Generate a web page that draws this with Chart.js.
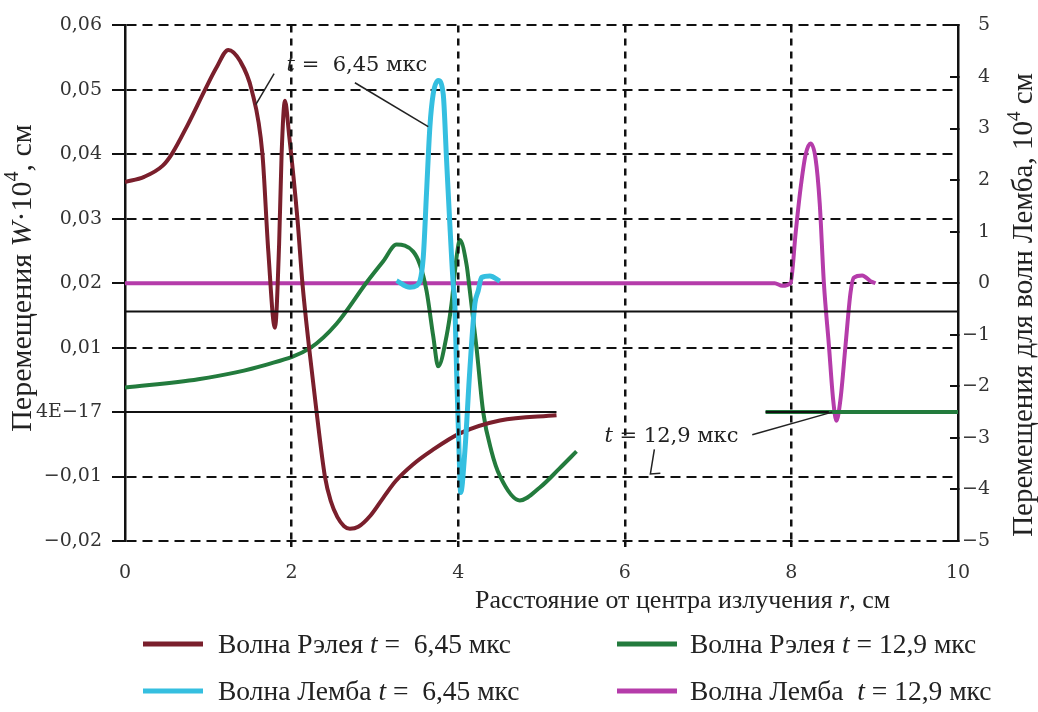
<!DOCTYPE html>
<html>
<head>
<meta charset="utf-8">
<script src="https://cdn.jsdelivr.net/npm/chart.js@4.4.1/dist/chart.umd.min.js"></script>
<style>
  html, body { margin: 0; padding: 0; background: #fff; }
  #wrap { width: 1038px; height: 712px; }
</style>
</head>
<body>
<div id="wrap"><canvas id="chart" width="1038" height="712"></canvas></div>
<script>
// Rayleigh wave, t = 6.45 us (left axis, W*10^4 cm)
const rayleighEarlyR = [0, 0.23, 0.45, 0.56, 0.75, 0.96, 1.10, 1.24, 1.38, 1.52, 1.65, 1.72, 1.80, 1.85, 1.88, 1.92, 1.97, 2.07, 2.13, 2.21, 2.30, 2.40, 2.47, 2.55, 2.63, 2.70, 2.80, 2.95, 3.10, 3.25, 3.45, 3.69, 4.02, 4.50, 5.18];
const rayleighEarlyW = [0.0357, 0.0365, 0.0382, 0.0400, 0.0445, 0.0500, 0.0535, 0.0562, 0.0545, 0.0500, 0.0400, 0.0250, 0.0131, 0.0260, 0.0400, 0.0483, 0.0430, 0.0300, 0.0200, 0.0100, 0.0000, -0.0100, -0.0138, -0.0163, -0.0177, -0.0181, -0.0178, -0.0160, -0.0133, -0.0107, -0.0082, -0.0059, -0.0033, -0.0013, -0.0005];

// Rayleigh wave, t = 12.9 us (left axis); null = break in the curve
const rayleighLateR = [0, 0.88, 1.68, 2.23, 2.54, 2.90, 3.10, 3.26, 3.46, 3.54, 3.62, 3.70, 3.76, 3.86, 3.92, 3.98, 4.02, 4.10, 4.14, 4.22, 4.30, 4.40, 4.50, 4.74, 4.98, 5.22, 5.42, 6.50, 7.69, 10];
const rayleighLateW = [0.0038, 0.0051, 0.0073, 0.0100, 0.0137, 0.0201, 0.0234, 0.0260, 0.0249, 0.0229, 0.0188, 0.0118, 0.0071, 0.0118, 0.0168, 0.0240, 0.0267, 0.0229, 0.0188, 0.0100, 0.0000, -0.0061, -0.0099, -0.0137, -0.0117, -0.0087, -0.0061, null, 0.0000, 0.0000];

// Lamb wave, t = 6.45 us (right axis, 10^4 cm)
const lambEarlyR = [3.26, 3.42, 3.50, 3.58, 3.62, 3.66, 3.70, 3.76, 3.82, 3.86, 3.90, 3.94, 3.96, 3.98, 4.01, 4.03, 4.08, 4.14, 4.20, 4.24, 4.28, 4.38, 4.50];
const lambEarlyW = [0.05, -0.08, -0.05, 0.49, 1.76, 3.03, 3.67, 3.93, 3.67, 2.40, 1.13, -0.02, -0.40, -1.67, -3.26, -4.06, -3.26, -1.67, -0.40, -0.15, 0.11, 0.14, 0.04];

// Lamb wave, t = 12.9 us (right axis)
const lambLateR = [0, 7.80, 7.89, 7.99, 8.05, 8.11, 8.17, 8.23, 8.29, 8.34, 8.39, 8.45, 8.50, 8.54, 8.59, 8.65, 8.71, 8.75, 8.85, 8.95, 9.01];
const lambLateW = [0, 0, -0.05, 0.0, 0.96, 1.84, 2.49, 2.71, 2.42, 1.55, 0.0, -1.20, -2.24, -2.67, -2.24, -1.20, -0.18, 0.11, 0.15, 0.04, 0.0];

// thin black lines of the original plot (left axis)
const zeroLineR = [0, 5.18, 6.50, 7.69, 8.45];
const zeroLineW = [0, 0, null, 0, 0];
const refLineR = [0, 10];
const refLineW = [0.0156, 0.0156];

const legendLabels = [
  [['Волна Рэлея '], ['t', 'i'], [' =  6,45 мкс']],
  [['Волна Рэлея '], ['t', 'i'], [' = 12,9 мкс']],
  [['Волна Лемба '], ['t', 'i'], [' =  6,45 мкс']],
  [['Волна Лемба  '], ['t', 'i'], [' = 12,9 мкс']]
];

const COLORS = { red: '#7a1f2c', green: '#237b3d', cyan: '#35bfe0', magenta: '#b53caa', ink: '#222' };
const SERIF = "'Liberation Serif', 'Times New Roman', serif";
const TICK_FONT = "'DejaVu Serif', serif";

function toPoints(xs, ys) {
  return xs.map((v, i) => ({ x: v, y: ys[i] }));
}

function formatLeft(v) {
  if (Math.abs(v) < 1e-9) return '4E\u221217';
  const s = Math.abs(v).toFixed(2).replace('.', ',');
  return v < 0 ? '\u2212' + s : s;
}

function formatRight(v) {
  return v < 0 ? '\u2212' + Math.abs(v) : String(v);
}

// draws a list of [text, style] runs, style: 'i' italic, 's' superscript
function drawRuns(ctx, runs, x, y, size, family, measureOnly) {
  let cx = x;
  runs.forEach(([text, style]) => {
    const sup = style === 's';
    const sz = sup ? Math.round(size * 0.65) : size;
    ctx.font = (style === 'i' ? 'italic ' : '') + sz + 'px ' + family;
    if (!measureOnly) ctx.fillText(text, cx, sup ? y - size * 0.42 : y);
    cx += ctx.measureText(text).width;
  });
  return cx - x;
}

const decorPlugin = {
  id: 'decor',
  afterDraw(chart) {
    const { ctx, scales: { x, y } } = chart;
    const px = v => x.getPixelForValue(v);
    const py = v => y.getPixelForValue(v);
    ctx.save();
    ctx.fillStyle = COLORS.ink;
    ctx.textAlign = 'left';
    ctx.textBaseline = 'alphabetic';

    // leader lines of the annotations
    const leaders = [
      [[1.79, 0.0525], [1.57, 0.0477]],
      [[2.76, 0.0511], [3.64, 0.0443]],
      [[7.53, -0.0035], [8.49, 0.0000]],
      [[6.355, -0.0058], [6.307, -0.0096], [6.427, -0.0095]]
    ];
    ctx.strokeStyle = COLORS.ink;
    ctx.lineWidth = 1.5;
    leaders.forEach(path => {
      ctx.beginPath();
      path.forEach(([vx, vy], i) => i ? ctx.lineTo(px(vx), py(vy)) : ctx.moveTo(px(vx), py(vy)));
      ctx.stroke();
    });

    drawRuns(ctx, [['t', 'i'], [' =  6,45 мкс']], px(1.94), py(0.0529), 21, TICK_FONT);
    drawRuns(ctx, [['t', 'i'], [' = 12,9 мкс']], px(5.755), py(-0.00458), 21, TICK_FONT);

    // axis titles
    drawRuns(ctx, [['Расстояние от центра излучения '], ['r', 'i'], [', см']], 475, 608, 26, SERIF);

    const leftTitle = [['Перемещения '], ['W', 'i'], ['·10'], ['4', 's'], [', см']];
    let w = drawRuns(ctx, leftTitle, 0, 0, 30, SERIF, true);
    ctx.save();
    ctx.translate(31, 278);
    ctx.rotate(-Math.PI / 2);
    drawRuns(ctx, leftTitle, -w / 2, 0, 30, SERIF);
    ctx.restore();

    const rightTitle = [['Перемещения для волн Лемба, 10'], ['4', 's'], [' см']];
    w = drawRuns(ctx, rightTitle, 0, 0, 29, SERIF, true);
    ctx.save();
    ctx.translate(1032, 305);
    ctx.rotate(-Math.PI / 2);
    drawRuns(ctx, rightTitle, -w / 2, 0, 29, SERIF);
    ctx.restore();

    // legend, two rows by two columns
    const legendColors = [COLORS.red, COLORS.green, COLORS.cyan, COLORS.magenta];
    const cols = [{ line: 143, text: 218 }, { line: 617, text: 690 }];
    const rows = [653, 700];
    legendLabels.forEach((runs, i) => {
      const c = cols[i % 2], base = rows[Math.floor(i / 2)];
      ctx.strokeStyle = legendColors[i];
      ctx.lineWidth = 5;
      ctx.beginPath();
      ctx.moveTo(c.line, base - 9);
      ctx.lineTo(c.line + 60, base - 9);
      ctx.stroke();
      drawRuns(ctx, runs, c.text, base, 27.5, SERIF);
    });
    ctx.restore();
  }
};

const line = (data, color, width, axis, order) => ({
  data, borderColor: color, borderWidth: width, yAxisID: axis, order,
  pointRadius: 0, fill: false, spanGaps: false
});

new Chart(document.getElementById('chart'), {
  type: 'line',
  data: {
    datasets: [
      line(toPoints(zeroLineR, zeroLineW), '#111', 2, 'y', 0),
      line(toPoints(refLineR, refLineW), '#111', 2, 'y', 1),
      line(toPoints(lambEarlyR, lambEarlyW), COLORS.cyan, 5, 'y1', 2),
      line(toPoints(rayleighEarlyR, rayleighEarlyW), COLORS.red, 4, 'y', 3),
      line(toPoints(rayleighLateR, rayleighLateW), COLORS.green, 4, 'y', 4),
      line(toPoints(lambLateR, lambLateW), COLORS.magenta, 4, 'y1', 5)
    ]
  },
  options: {
    responsive: false,
    animation: false,
    layout: { padding: { top: 17, right: 48 } },
    elements: { line: { cubicInterpolationMode: 'monotone' } },
    plugins: { legend: { display: false }, tooltip: { enabled: false } },
    scales: {
      x: {
        type: 'linear', min: 0, max: 10,
        afterFit: s => { s.height = 171; },
        border: { display: false, dash: [7, 6] },
        grid: {
          z: 1,
          color: c => (c.tick && (c.tick.value === 0 || c.tick.value === 10)) ? 'rgba(0,0,0,0)' : '#111',
          lineWidth: 2.5, tickLength: 6
        },
        ticks: { stepSize: 2, autoSkip: false, maxRotation: 0, padding: 15, color: '#333', font: { family: TICK_FONT, size: 19 } }
      },
      y: {
        position: 'left', min: -0.02, max: 0.06,
        afterFit: s => { s.width = 125; },
        border: { display: true, color: '#111', width: 2.5, dash: [10, 6] },
        grid: {
          color: c => (c.tick && Math.abs(c.tick.value) < 1e-9) ? 'rgba(0,0,0,0)' : '#111',
          lineWidth: 2, tickLength: 13, tickColor: '#111', tickWidth: 2
        },
        ticks: { stepSize: 0.01, padding: 10, callback: formatLeft, color: '#333', font: { family: TICK_FONT, size: 19 } }
      },
      y1: {
        position: 'right', min: -5, max: 5,
        afterFit: s => { s.width = 32; },
        border: { display: true, color: '#111', width: 2.5 },
        grid: { drawOnChartArea: false, tickLength: -8, color: '#111', lineWidth: 2 },
        ticks: { stepSize: 1, padding: 14, crossAlign: 'far', callback: formatRight, color: '#333', font: { family: TICK_FONT, size: 19 } }
      }
    }
  },
  plugins: [decorPlugin]
});
</script>
</body>
</html>
